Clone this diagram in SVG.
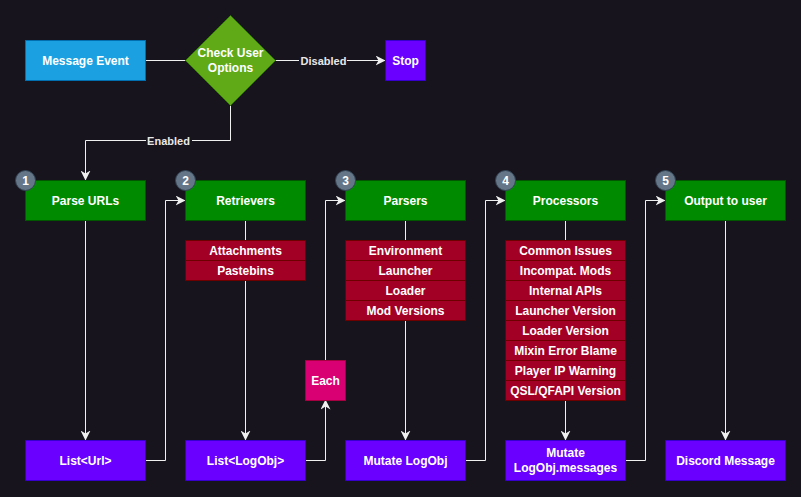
<svg xmlns="http://www.w3.org/2000/svg" width="801" height="497" viewBox="0 0 801 497">
<defs>
<marker id="arr" viewBox="0 0 10 10" refX="9" refY="5" markerWidth="10" markerHeight="10" markerUnits="userSpaceOnUse" orient="auto">
<path d="M0,0 L10,5 L0,10 L3,5 Z" fill="#f0f0f0"/>
</marker>
<style>
text{font-family:"Liberation Sans",Arial,sans-serif;font-size:12px;font-weight:bold;fill:#ffffff;text-anchor:middle;dominant-baseline:central}
.blue{fill:#1ba1e2;stroke:#006eaf}
.grn{fill:#008a00;stroke:#005700}
.dia{fill:#60a917;stroke:#2d7600}
.pur{fill:#6a00ff;stroke:#3700cc}
.red{fill:#a20025;stroke:#6f0000}
.pink{fill:#d80073;stroke:#a50040}
.num{fill:#647687;stroke:#314354}
.e{fill:none;stroke:#f0f0f0;stroke-width:1}
.ea{fill:none;stroke:#f0f0f0;stroke-width:1;marker-end:url(#arr)}
.lbl{fill:#e8e8e8;font-size:11px}
</style>
</defs>
<rect width="801" height="497" fill="#18141d"/>
<g id="edges">
<path class="e" d="M145.5,60.5 H185.5"/>
<path class="ea" d="M275.5,60.5 H384.5"/>
<path class="ea" d="M230.5,105.5 V140.5 H85.5 V179.5"/>
<path class="ea" d="M85.5,220.5 V439.5"/>
<path class="e" d="M245.5,220.5 V240.5"/>
<path class="ea" d="M245.5,280.5 V439.5"/>
<path class="e" d="M405.5,220.5 V240.5"/>
<path class="ea" d="M405.5,320.5 V439.5"/>
<path class="e" d="M565.5,220.5 V240.5"/>
<path class="ea" d="M565.5,400.5 V439.5"/>
<path class="ea" d="M725.5,220.5 V439.5"/>
<path class="ea" d="M145.5,460.5 H165.5 V200.5 H184.5"/>
<path class="ea" d="M305.5,460.5 H325.5 V400.5"/>
<path class="ea" d="M325.5,360.5 V200.5 H344.5"/>
<path class="ea" d="M465.5,460.5 H485.5 V200.5 H504.5"/>
<path class="ea" d="M625.5,460.5 H645.5 V200.5 H664.5"/>
<rect x="299" y="52" width="48" height="16" fill="#18141d"/>
<text class="lbl" x="323.5" y="60.5">Disabled</text>
<rect x="146" y="132" width="46" height="16" fill="#18141d"/>
<text class="lbl" x="168.5" y="140.5">Enabled</text>
</g>
<g id="message-event"><rect class="blue" x="25.5" y="40.5" width="120" height="40"/><text x="85.5" y="60.5">Message Event</text></g>
<g id="check-user-options"><path class="dia" d="M230.5,15.5 L275.5,60.5 L230.5,105.5 L185.5,60.5 Z"/><text x="230.5" y="53">Check User</text><text x="230.5" y="68">Options</text></g>
<g id="stop"><rect class="pur" x="385.5" y="40.5" width="40" height="40"/><text x="405.5" y="60.5">Stop</text></g>

<g id="parse-urls"><rect class="grn" x="25.5" y="180.5" width="120" height="40"/><text x="85.5" y="200.5">Parse URLs</text></g>
<g id="retrievers"><rect class="grn" x="185.5" y="180.5" width="120" height="40"/><text x="245.5" y="200.5">Retrievers</text></g>
<g id="parsers"><rect class="grn" x="345.5" y="180.5" width="120" height="40"/><text x="405.5" y="200.5">Parsers</text></g>
<g id="processors"><rect class="grn" x="505.5" y="180.5" width="120" height="40"/><text x="565.5" y="200.5">Processors</text></g>
<g id="output-to-user"><rect class="grn" x="665.5" y="180.5" width="120" height="40"/><text x="725.5" y="200.5">Output to user</text></g>

<g id="n1"><circle class="num" cx="25.5" cy="180.5" r="10"/><text x="25.5" y="180.5">1</text></g>
<g id="n2"><circle class="num" cx="185.5" cy="180.5" r="10"/><text x="185.5" y="180.5">2</text></g>
<g id="n3"><circle class="num" cx="345.5" cy="180.5" r="10"/><text x="345.5" y="180.5">3</text></g>
<g id="n4"><circle class="num" cx="505.5" cy="180.5" r="10"/><text x="505.5" y="180.5">4</text></g>
<g id="n5"><circle class="num" cx="665.5" cy="180.5" r="10"/><text x="665.5" y="180.5">5</text></g>

<g id="retrievers-list">
<rect class="red" x="185.5" y="240.5" width="120" height="20"/><text x="245.5" y="250.5">Attachments</text>
<rect class="red" x="185.5" y="260.5" width="120" height="20"/><text x="245.5" y="270.5">Pastebins</text>
</g>
<g id="parsers-list">
<rect class="red" x="345.5" y="240.5" width="120" height="20"/><text x="405.5" y="250.5">Environment</text>
<rect class="red" x="345.5" y="260.5" width="120" height="20"/><text x="405.5" y="270.5">Launcher</text>
<rect class="red" x="345.5" y="280.5" width="120" height="20"/><text x="405.5" y="290.5">Loader</text>
<rect class="red" x="345.5" y="300.5" width="120" height="20"/><text x="405.5" y="310.5">Mod Versions</text>
</g>
<g id="processors-list">
<rect class="red" x="505.5" y="240.5" width="120" height="20"/><text x="565.5" y="250.5">Common Issues</text>
<rect class="red" x="505.5" y="260.5" width="120" height="20"/><text x="565.5" y="270.5">Incompat. Mods</text>
<rect class="red" x="505.5" y="280.5" width="120" height="20"/><text x="565.5" y="290.5">Internal APIs</text>
<rect class="red" x="505.5" y="300.5" width="120" height="20"/><text x="565.5" y="310.5">Launcher Version</text>
<rect class="red" x="505.5" y="320.5" width="120" height="20"/><text x="565.5" y="330.5">Loader Version</text>
<rect class="red" x="505.5" y="340.5" width="120" height="20"/><text x="565.5" y="350.5">Mixin Error Blame</text>
<rect class="red" x="505.5" y="360.5" width="120" height="20"/><text x="565.5" y="370.5">Player IP Warning</text>
<rect class="red" x="505.5" y="380.5" width="120" height="20"/><text x="565.5" y="390.5">QSL/QFAPI Version</text>
</g>

<g id="each"><rect class="pink" x="305.5" y="360.5" width="40" height="40"/><text x="325.5" y="380.5">Each</text></g>

<g id="list-url"><rect class="pur" x="25.5" y="440.5" width="120" height="40"/><text x="85.5" y="460.5">List&lt;Url&gt;</text></g>
<g id="list-logobj"><rect class="pur" x="185.5" y="440.5" width="120" height="40"/><text x="245.5" y="460.5">List&lt;LogObj&gt;</text></g>
<g id="mutate-logobj"><rect class="pur" x="345.5" y="440.5" width="120" height="40"/><text x="405.5" y="460.5">Mutate LogObj</text></g>
<g id="mutate-messages"><rect class="pur" x="505.5" y="440.5" width="120" height="40"/><text x="565.5" y="453">Mutate</text><text x="565.5" y="468">LogObj.messages</text></g>
<g id="discord-message"><rect class="pur" x="665.5" y="440.5" width="120" height="40"/><text x="725.5" y="460.5">Discord Message</text></g>
</svg>
